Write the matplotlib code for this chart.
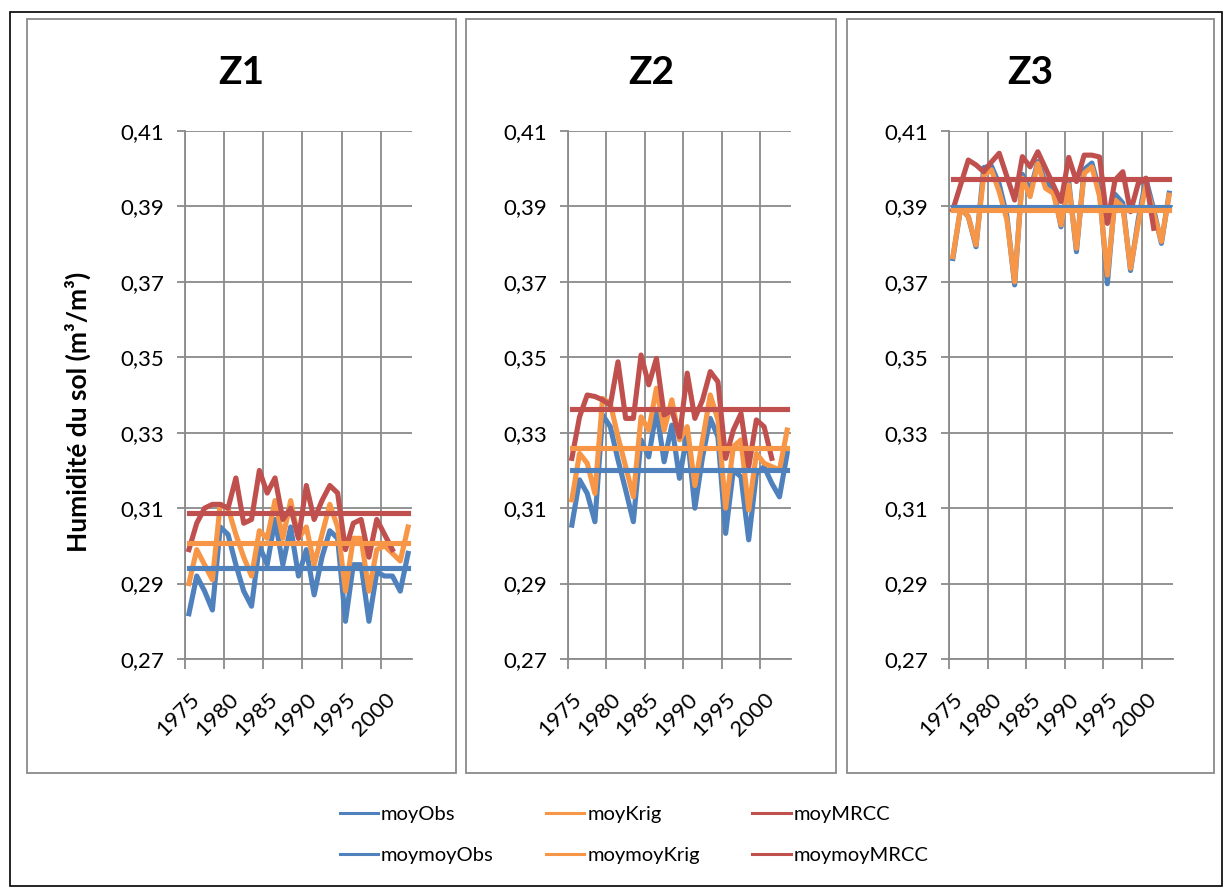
import matplotlib
matplotlib.use("Agg")
import matplotlib.pyplot as plt
from matplotlib.patches import Rectangle
from matplotlib.lines import Line2D
from matplotlib.ticker import FuncFormatter

plt.rcParams['font.family'] = ['Lato', 'DejaVu Sans']

# years
years = list(range(1975, 2004))
years_mrcc = list(range(1975, 2002))

# Z1
obs1 = [0.282, 0.292, 0.288, 0.283, 0.305, 0.303, 0.295, 0.288, 0.284, 0.300, 0.295, 0.307, 0.295, 0.305, 0.292,
        0.299, 0.287, 0.297, 0.304, 0.302, 0.280, 0.295, 0.295, 0.280, 0.293, 0.292, 0.292, 0.288, 0.298]
krig1 = [0.290, 0.299, 0.295, 0.291, 0.311, 0.310, 0.303, 0.297, 0.292, 0.304, 0.302, 0.312, 0.302, 0.312, 0.302,
         0.305, 0.295, 0.303, 0.311, 0.305, 0.288, 0.302, 0.302, 0.288, 0.299, 0.300, 0.298, 0.296, 0.305]
mrcc1 = [0.299, 0.306, 0.310, 0.311, 0.311, 0.310, 0.318, 0.306, 0.307, 0.320, 0.314, 0.318, 0.307, 0.310, 0.302,
         0.316, 0.307, 0.312, 0.316, 0.314, 0.299, 0.306, 0.307, 0.297, 0.307, 0.303, 0.299]
moymoy1 = [0.2941, 0.3008, 0.3087]

# Z2
obs2 = [0.3055, 0.3175, 0.3139, 0.3064, 0.3347, 0.3316, 0.3228, 0.3148, 0.3064, 0.3281, 0.3236, 0.3360, 0.3223,
        0.3320, 0.3179, 0.3298, 0.3100, 0.3236, 0.3338, 0.3289, 0.3033, 0.3201, 0.3183, 0.3016, 0.3192, 0.3210,
        0.3166, 0.3130, 0.3245]
krig2 = [0.3122, 0.3245, 0.3219, 0.3139, 0.3391, 0.3378, 0.3289, 0.3210, 0.3130, 0.3342, 0.3307, 0.3418, 0.3307,
         0.3387, 0.3281, 0.3316, 0.3160, 0.3281, 0.3400, 0.3334, 0.3100, 0.3263, 0.3281, 0.3095, 0.3245, 0.3219,
         0.3210, 0.3201, 0.3307]
mrcc2 = [0.3232, 0.3342, 0.3400, 0.3396, 0.3387, 0.3373, 0.3488, 0.3338, 0.3338, 0.3506, 0.3427, 0.3497, 0.3347,
         0.3360, 0.3289, 0.3458, 0.3338, 0.3387, 0.3462, 0.3435, 0.3232, 0.3307, 0.3351, 0.3210, 0.3334, 0.3316,
         0.3232]
moymoy2 = [0.3201, 0.3259, 0.3363]

# Z3
obs3 = [0.3762, 0.3895, 0.3873, 0.3793, 0.4003, 0.4007, 0.3959, 0.3874, 0.3692, 0.3985, 0.3941, 0.4019, 0.3963,
        0.3950, 0.3846, 0.3967, 0.3780, 0.3998, 0.4015, 0.3941, 0.3695, 0.3932, 0.3909, 0.3730, 0.3865, 0.3972,
        0.3892, 0.3802, 0.3935]
krig3 = [0.3767, 0.3895, 0.3873, 0.3798, 0.3983, 0.3997, 0.3939, 0.3864, 0.3700, 0.3975, 0.3926, 0.4014, 0.3948,
         0.3935, 0.3851, 0.3957, 0.3789, 0.3988, 0.4005, 0.3926, 0.3718, 0.3917, 0.3899, 0.3736, 0.3855, 0.3957,
         0.3882, 0.3807, 0.3930]
mrcc3 = [0.3891, 0.3957, 0.4023, 0.4010, 0.3992, 0.4018, 0.4041, 0.3979, 0.3917, 0.4032, 0.4005, 0.4045, 0.4001,
         0.3957, 0.3913, 0.4030, 0.3966, 0.4036, 0.4036, 0.4031, 0.3855, 0.3970, 0.3992, 0.3886, 0.3961, 0.3975,
         0.3842]
moymoy3 = [0.3898, 0.3891, 0.3973]

titles = ['Z1', 'Z2', 'Z3']
labels = ['moyObs', 'moyKrig', 'moyMRCC', 'moymoyObs', 'moymoyKrig', 'moymoyMRCC']
colors = ['#4F81BD', '#F79646', '#C0504D']
yticks = [0.27, 0.29, 0.31, 0.33, 0.35, 0.37, 0.39, 0.41]
xlabels = [1975, 1980, 1985, 1990, 1995, 2000]

W, H = 1225, 888
fig = plt.figure(figsize=(W / 100, H / 100), dpi=100)

def px(x0, y0, x1, y1):
    return [x0 / W, 1 - y1 / H, (x1 - x0) / W, (y1 - y0) / H]

# outer frame and panel boxes
fig.patches.append(Rectangle((10 / W, 1 - 886 / H), 1212 / W, 874 / H, transform=fig.transFigure,
                             fill=False, ec='black', lw=1.2))
boxes = [(27, 456), (466, 836), (847, 1214)]
for b in boxes:
    fig.patches.append(Rectangle((b[0] / W, 1 - 773 / H), (b[1] - b[0]) / W, 754 / H,
                                 transform=fig.transFigure, fill=False, ec='#8a8a8a', lw=1.3))

axes_px = [(185, 412), (568, 791), (949, 1173)]
data = [(obs1, krig1, mrcc1, moymoy1), (obs2, krig2, mrcc2, moymoy2), (obs3, krig3, mrcc3, moymoy3)]

for k in range(3):
    ax = fig.add_axes(px(axes_px[k][0], 131, axes_px[k][1], 659))
    obs, krig, mrcc, mm = data[k]
    ax.plot(years, obs, color=colors[0], lw=3.7, solid_joinstyle='round', zorder=3)
    ax.plot(years, krig, color=colors[1], lw=3.7, solid_joinstyle='round', zorder=3)
    ax.plot(years_mrcc, mrcc, color=colors[2], lw=3.7, solid_joinstyle='round', zorder=3)
    ax.plot(years, [mm[0]] * len(years), color=colors[0], lw=3.7, zorder=3)
    ax.plot(years, [mm[1]] * len(years), color=colors[1], lw=3.7, zorder=3)
    ax.plot(years, [mm[2]] * len(years), color=colors[2], lw=3.7, zorder=3)

    ax.set_xlim(1974.5, 2003.5)
    ax.set_ylim(0.27, 0.41)
    ax.set_yticks(yticks)
    ax.yaxis.set_major_formatter(FuncFormatter(lambda v, p: ('%.2f' % v).replace('.', ',')))
    ax.set_xticks([y - 0.5 for y in xlabels])
    ax.set_xticklabels([])
    ax.set_xticks(xlabels, minor=True)
    ax.set_xticklabels([str(y) for y in xlabels], minor=True, rotation=45, ha='right', va='top',
                       rotation_mode='anchor')
    ax.tick_params(axis='x', which='major', direction='out', length=7, width=1.3, color='#8a8a8a')
    ax.tick_params(axis='x', which='minor', length=0, pad=22, labelsize=16)
    ax.tick_params(axis='y', direction='out', length=6, width=1.3, color='#8a8a8a', labelsize=16, pad=9)
    ax.grid(True, which='major', color='#8a8a8a', lw=1.3)
    for s in ['top', 'right']:
        ax.spines[s].set_visible(False)
    for s in ['left', 'bottom']:
        ax.spines[s].set_color('#8a8a8a')
        ax.spines[s].set_linewidth(1.3)
    ax.set_axisbelow(True)

    cx = (boxes[k][0] + boxes[k][1]) / 2 / W
    fig.text(cx, 1 - 72 / H, titles[k], ha='center', va='center', fontsize=28, fontweight='bold')

fig.text(78 / W, 1 - 412 / H, 'Humidité du sol (m³/m³)', rotation=90, ha='center', va='center',
         fontsize=19, fontweight='bold')

handles = [Line2D([], [], color=colors[i % 3], lw=2.2) for i in range(6)]
order = [0, 3, 1, 4, 2, 5]
fig.legend([handles[i] for i in order], [labels[i] for i in order], ncol=3, loc='center',
           bbox_to_anchor=(634 / W, 1 - 835 / H), frameon=False, fontsize=14.5, handlelength=1.9,
           handletextpad=0.15, columnspacing=2.6, labelspacing=1.2)

fig.savefig('out.png', dpi=100)
